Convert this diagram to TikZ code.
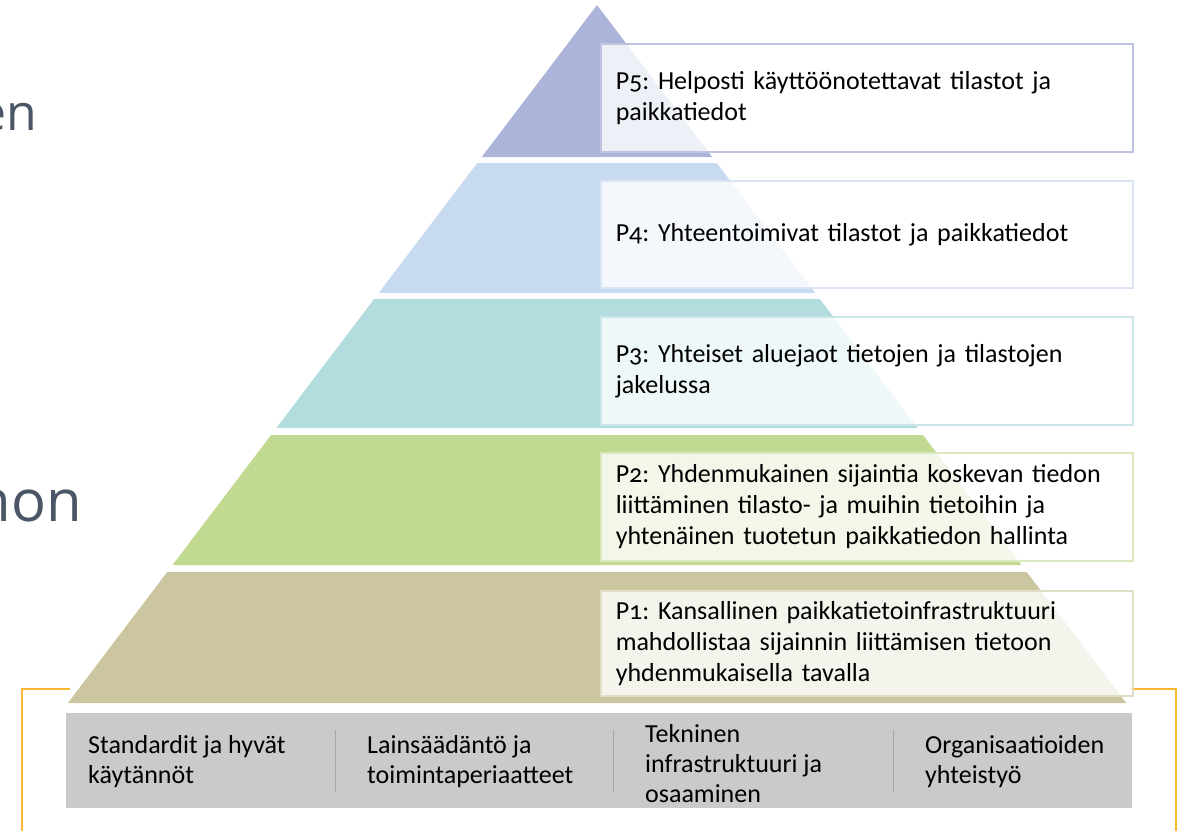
\documentclass[tikz,border=0pt]{standalone}
\usepackage{fontspec}
\setmainfont{Carlito}[Numbers=OldStyle]
\newfontfamily\slidefont{Open Sans}
\usepackage{xcolor}
\usetikzlibrary{positioning}
\frenchspacing

\definecolor{lvlfive}{HTML}{ACB4DA}
\definecolor{lvlfour}{HTML}{C8DAF0}
\definecolor{lvlthree}{HTML}{B3DCDE}
\definecolor{lvltwo}{HTML}{C2D991}
\definecolor{lvlone}{HTML}{CCC6A0}
\definecolor{basegray}{HTML}{CBC9CA}
\definecolor{framegold}{HTML}{F9B92E}
\definecolor{slidetext}{HTML}{4A5566}

\begin{document}
\begin{tikzpicture}[
 x=1pt, y=-1pt,
 pbox/.style={rectangle, draw, line width=1.5pt, fill=white, fill opacity=0.8, text opacity=1, anchor=north west, minimum width=532pt, minimum height=108pt, text width=502pt, inner xsep=15pt, align=left, font=\fontsize{26}{31}\selectfont},
 basetext/.style={anchor=west, align=left, inner sep=0pt, font=\fontsize{26}{30}\selectfont},
 divider/.style={draw=gray!70, line width=1pt},
 slideword/.style={anchor=base east, inner sep=0pt, text=slidetext}
 ]
 \useasboundingbox (0,0) rectangle (1178,831);
 % Slide text behind
 \node[slideword, font=\slidefont\fontsize{50}{50}\selectfont] (wordA) at (37,130) {en};
 \node[slideword, font=\slidefont\fontsize{58}{58}\selectfont] (wordB) at (82,521) {non};
 % Frame
 \draw[framegold, line width=2.5pt] (22,831) |- (70,689);
 \draw[framegold, line width=2.5pt] (1130,689) -| (1176,831);
 % Pyramid
 \fill[lvlfive] (597,5) -- ({597-0.758*152},157) -- ({597+0.758*152},157) -- cycle;
 \foreach \t/\b/\c in {163/293/lvlfour, 299/428/lvlthree, 435/565/lvltwo, 572/703/lvlone}
  \fill[\c] ({597-0.758*(\t-5)},\t) -- ({597+0.758*(\t-5)},\t) -- ({597+0.758*(\b-5)},\b) -- ({597-0.758*(\b-5)},\b) -- cycle;
 % Nodes
 \node[pbox, draw=lvlfive!80!white] (p5) at (600,43) {P5: Helposti käyttöönotettavat tilastot ja\\paikkatiedot};
 \node[pbox, draw=lvlfour!70!white, minimum height=107pt] (p4) at (600,180) {P4: Yhteentoimivat tilastot ja paikkatiedot};
 \node[pbox, draw=lvlthree!70!white] (p3) at (600,316) {P3: Yhteiset aluejaot tietojen ja tilastojen\\jakelussa};
 \node[pbox, draw=lvltwo!60!white] (p2) at (600,452) {P2: Yhdenmukainen sijaintia koskevan tiedon\\liittäminen tilasto- ja muihin tietoihin ja\\yhtenäinen tuotetun paikkatiedon hallinta};
 \node[pbox, draw=lvlone!60!white, minimum height=105pt] (p1) at (600,590) {P1: Kansallinen paikkatietoinfrastruktuuri\\mahdollistaa sijainnin liittämisen tietoon\\yhdenmukaisella tavalla};
 % Foundation
 \fill[basegray] (66,713) rectangle (1132,808);
 \node[basetext] (std) at (88,762) {Standardit ja hyvät\\käytännöt};
 \node[basetext] (law) at (367,762) {Lainsäädäntö ja\\toimintaperiaatteet};
 \node[basetext] (tech) at (645,764) {Tekninen\\infrastruktuuri ja\\osaaminen};
 \node[basetext] (org) at (925,762) {Organisaatioiden\\yhteistyö};
 \draw[divider] (335,730) -- (335,792);
 \draw[divider] (613,730) -- (613,792);
 \draw[divider] (893,730) -- (893,792);
\end{tikzpicture}
\end{document}
